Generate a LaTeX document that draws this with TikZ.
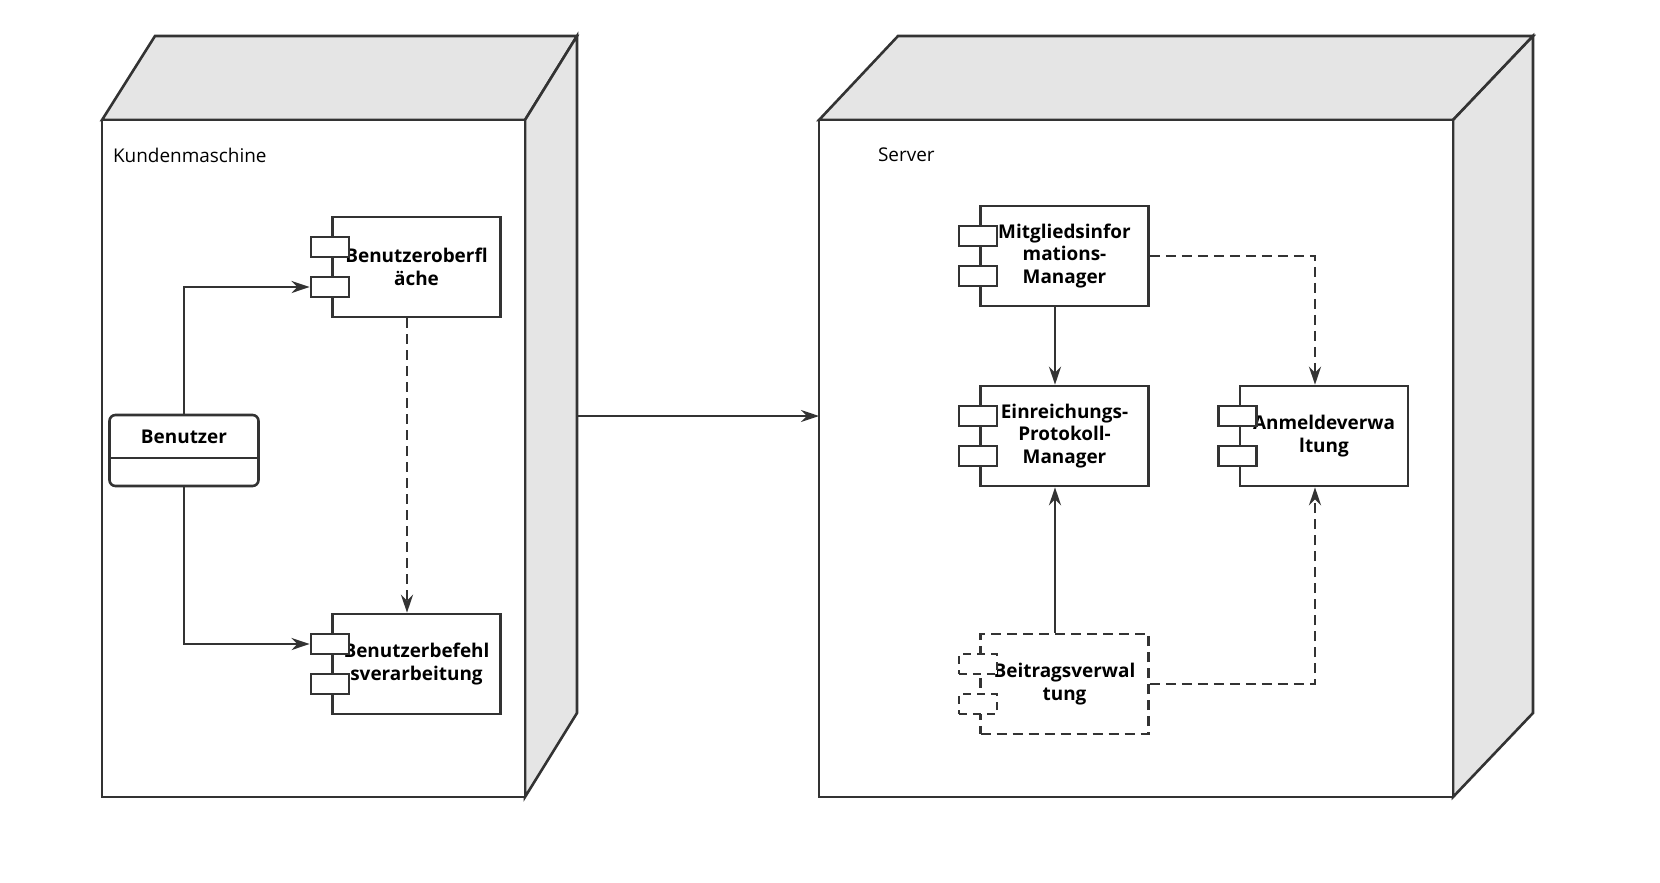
\documentclass[tikz,border=0pt]{standalone}
\usepackage{fontspec}
\setmainfont{Open Sans}
\usetikzlibrary{arrows.meta, positioning}

\tikzset{
  line/.style={draw=black!80, line width=1.3pt},
  face/.style={line, fill=black!10},
  comp/.style={line, fill=white, minimum width=84bp, minimum height=50bp, inner sep=0pt,
    align=center, font=\bfseries\fontsize{9.5}{11.5}\selectfont},
  port/.style={line, fill=white, minimum width=19bp, minimum height=10bp, inner sep=0pt},
  arr/.style={line, -{Stealth[length=9bp, width=6bp]}},
  dashedarr/.style={arr, dash pattern=on 5bp off 3bp},
  plain/.style={font=\fontsize{9.5}{11.5}\selectfont, anchor=west}
}
\newcommand{\ports}[1]{%
  \node[port, anchor=east] (#1p1) at ([xshift=9.5bp, yshift=10bp]#1.west) {};
  \node[port, anchor=east] (#1p2) at ([xshift=9.5bp, yshift=-10bp]#1.west) {};}

\begin{document}
\begin{tikzpicture}[x=0.5bp, y=-0.5bp]
\useasboundingbox (0,0) rectangle (1660,882);

% Kundenmaschine
\draw[face] (102,120) -- (155,36) -- (577,36) -- (525,120) -- cycle;
\draw[face] (525,120) -- (577,36) -- (577,713) -- (525,797) -- cycle;
\draw[line, fill=white] (102,120) rectangle (525,797);
\node[plain] at (106,155) {Kundenmaschine};

% Server
\draw[face] (819,120) -- (898,36) -- (1533,36) -- (1453,120) -- cycle;
\draw[face] (1453,120) -- (1533,36) -- (1533,713) -- (1453,797) -- cycle;
\draw[line, fill=white] (819,120) rectangle (1453,797);
\node[plain] at (871,155) {Server};

\coordinate (kright) at (577,416);
\coordinate (sleft) at (819,416);

% components
\node[comp] (ui) at (416.5,267) {Benutzeroberfl\\äche};
\ports{ui}
\node[comp] (cmd) at (416.5,664) {Benutzerbefehl\\sverarbeitung};
\ports{cmd}
\node[comp] (mim) at (1064.5,256) {Mitgliedsinfor\\mations-\\Manager};
\ports{mim}
\node[comp] (epm) at (1064.5,436) {Einreichungs-\\Protokoll-\\Manager};
\ports{epm}
\node[comp] (anm) at (1324,436) {Anmeldeverwa\\ltung};
\ports{anm}
\node[comp, dash pattern=on 5bp off 3bp] (btr) at (1064.5,684) {Beitragsverwal\\tung};
\begin{scope}[every node/.append style={dash pattern=on 4bp off 3bp}]
\ports{btr}
\end{scope}

% Benutzer
\node[line, rounded corners=3bp, minimum width=74.5bp, minimum height=35.5bp, inner sep=0pt] (ben) at (184,450.5) {};
\draw[line] (109,458) -- (258,458);
\node[font=\bfseries\fontsize{9.5}{11.5}\selectfont] at (184,437) {Benutzer};

% connectors
\draw[arr] (ben.north) |- (uip2.west);
\draw[arr] (ben.south) |- (cmdp1.west);
\draw[dashedarr] ([xshift=-4.75bp]ui.south) -- ([xshift=-4.75bp]cmd.north);
\draw[arr] (kright) -- (sleft);
\draw[arr] ([xshift=-4.75bp]mim.south) -- ([xshift=-4.75bp]epm.north);
\draw[arr] ([xshift=-4.75bp]btr.north) -- ([xshift=-4.75bp]epm.south);
\draw[dashedarr] (mim.east) -| ([xshift=-4.5bp]anm.north);
\draw[dashedarr] (btr.east) -| ([xshift=-4.5bp]anm.south);
\end{tikzpicture}
\end{document}
